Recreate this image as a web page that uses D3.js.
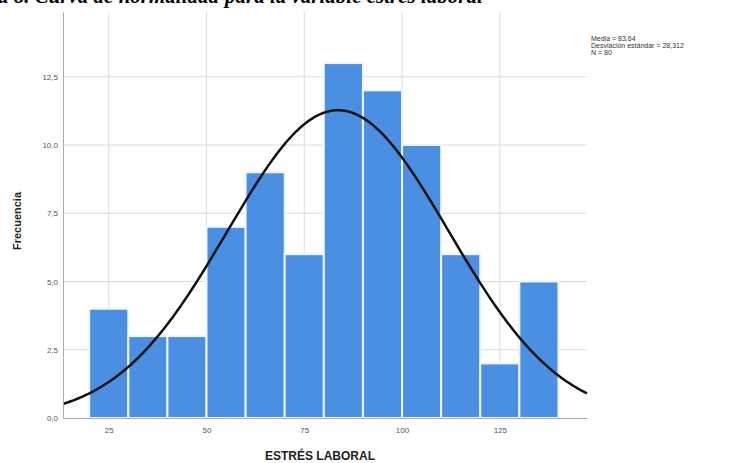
<!DOCTYPE html>
<meta charset="utf-8">
<title>Histograma estrés laboral</title>
<script src="https://d3js.org/d3.v7.min.js"></script>
<style>
  body { margin: 0; background: #fff; }
  text { font-family: "Liberation Sans", Arial, sans-serif; }
</style>
<body>
<script>

// Data
const binStarts = [20, 30, 40, 50, 60, 70, 80, 90, 100, 110, 120, 130];
const binWidth = 10;
const counts = [4, 3, 3, 7, 9, 6, 13, 12, 10, 6, 2, 5];
const xTicks = [25, 50, 75, 100, 125];
const yTicks = [0, 2.5, 5, 7.5, 10, 12.5];
const stats = { media: 83.64, sd: 28.312, n: 80 };
const statLines = ["Media = 83,64", "Desviación estándar = 28,312", "N = 80"];

const width = 729, height = 463;
const plotLeft = 63, plotRight = 587, plotTop = 12, plotBottom = 418;

const svg = d3.select("body").append("svg")
  .attr("width", width)
  .attr("height", height);

const x = d3.scaleLinear().domain([13.3, 147.3]).range([plotLeft, plotRight]);
const y = d3.scaleLinear().domain([0, 14.87]).range([plotBottom, plotTop]);

const fmt = d => d3.format(".1f")(d).replace(".", ",");

// caption, cut off at the top like in the source image
const capFont = "'Liberation Serif', 'Times New Roman', serif";
svg.append("text")
  .attr("x", 225).attr("y", 3)
  .style("font-family", capFont)
  .style("font-weight", "bold").style("font-style", "italic")
  .style("font-size", "21px")
  .text("para la variable estrés laboral");
svg.append("text")
  .attr("x", 219).attr("y", 3)
  .attr("text-anchor", "end")
  .style("font-family", capFont)
  .style("font-weight", "bold").style("font-style", "italic")
  .style("font-size", "21px")
  .text("Figura 8. Curva de normalidad");

// gridlines
svg.append("g")
  .selectAll("line")
  .data(yTicks.filter(d => d > 0))
  .join("line")
  .attr("x1", plotLeft).attr("x2", plotRight)
  .attr("y1", d => y(d)).attr("y2", d => y(d))
  .attr("stroke", "#dcdcdc").attr("stroke-width", 1);

svg.append("g")
  .selectAll("line")
  .data(xTicks)
  .join("line")
  .attr("x1", d => x(d)).attr("x2", d => x(d))
  .attr("y1", plotTop).attr("y2", plotBottom)
  .attr("stroke", "#dcdcdc").attr("stroke-width", 1);

// bars
svg.append("g")
  .selectAll("rect")
  .data(counts)
  .join("rect")
  .attr("x", (d, i) => x(binStarts[i]))
  .attr("width", (d, i) => x(binStarts[i] + binWidth) - x(binStarts[i]))
  .attr("y", d => y(d))
  .attr("height", d => y(0) - y(d))
  .attr("fill", "#4a8fe2")
  .attr("stroke", "#eef5fd")
  .attr("stroke-width", 2);

// normal curve
const scaleN = stats.n * binWidth / (stats.sd * Math.sqrt(2 * Math.PI));
const curveX = d3.range(13.3, 147.31, 0.5);
const line = d3.line()
  .x(d => x(d))
  .y(d => y(scaleN * Math.exp(-0.5 * Math.pow((d - stats.media) / stats.sd, 2))));
svg.append("path")
  .datum(curveX)
  .attr("d", line)
  .attr("fill", "none")
  .attr("stroke", "#111")
  .attr("stroke-width", 2.5);

// axes
const yAxis = svg.append("g")
  .attr("transform", `translate(${plotLeft},0)`)
  .call(d3.axisLeft(y).tickValues(yTicks).tickFormat(fmt).tickSize(0).tickPadding(5));
const xAxis = svg.append("g")
  .attr("transform", `translate(0,${plotBottom})`)
  .call(d3.axisBottom(x).tickValues(xTicks).tickSize(0).tickPadding(9));
[xAxis, yAxis].forEach(g => {
  g.select(".domain").attr("stroke", "#aaa");
  g.selectAll("text").attr("fill", "#555").style("font-size", "8px");
});

// axis titles
svg.append("text")
  .attr("transform", `translate(21,${(plotTop + plotBottom) / 2 + 6}) rotate(-90)`)
  .attr("text-anchor", "middle")
  .style("font-weight", "bold").style("font-size", "11px")
  .attr("fill", "#222")
  .text("Frecuencia");

svg.append("text")
  .attr("x", 320).attr("y", 460)
  .attr("text-anchor", "middle")
  .style("font-weight", "bold").style("font-size", "12px")
  .attr("fill", "#222")
  .text("ESTRÉS LABORAL");

// stats
svg.append("g")
  .selectAll("text")
  .data(statLines)
  .join("text")
  .attr("x", 591)
  .attr("y", (d, i) => 41 + i * 7)
  .style("font-size", "7px")
  .attr("fill", "#333")
  .text(d => d);

</script>
</body>
